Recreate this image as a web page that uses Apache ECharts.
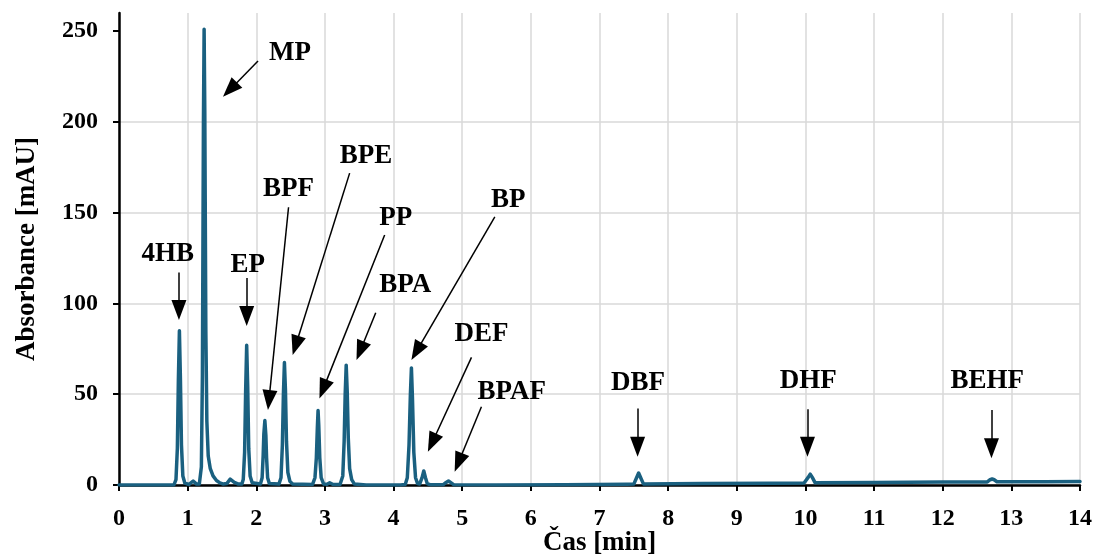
<!DOCTYPE html>
<html><head><meta charset="utf-8">
<script src="https://cdn.jsdelivr.net/npm/echarts@6/dist/echarts.min.js"></script>
<style>html,body{margin:0;padding:0;background:#fff}#c{width:1096px;height:556px}</style>
</head><body><div id="c"></div>
<script>
// Retention time [min]
const timeMin = [
  0, 0.75,
  0.80, 0.83, 0.85, 0.865, 0.88, 0.895, 0.91, 0.93, 0.96,
  1.02, 1.08, 1.13,
  1.17, 1.20, 1.215, 1.23, 1.24, 1.25, 1.265, 1.28, 1.30, 1.33, 1.37, 1.42, 1.47, 1.52,
  1.57, 1.62, 1.68, 1.74,
  1.79, 1.81, 1.83, 1.845, 1.86, 1.875, 1.89, 1.91, 1.94,
  2.06, 2.085, 2.10, 2.11, 2.125, 2.14, 2.15, 2.165, 2.19,
  2.33, 2.36, 2.38, 2.395, 2.41, 2.425, 2.44, 2.46, 2.49, 2.53,
  2.82, 2.855, 2.875, 2.89, 2.90, 2.91, 2.925, 2.945, 2.98,
  3.03, 3.07, 3.12,
  3.22, 3.26, 3.28, 3.295, 3.31, 3.325, 3.34, 3.36, 3.39, 3.43,
  3.60, 4.10,
  4.17, 4.20, 4.225, 4.245, 4.26, 4.275, 4.295, 4.32, 4.35,
  4.38, 4.415, 4.44, 4.465, 4.49, 4.53,
  4.72, 4.765, 4.80, 4.835, 4.88,
  5.50, 6.50, 7.40,
  7.50, 7.54, 7.57, 7.60, 7.64,
  8.50, 9.50, 9.98,
  10.00, 10.04, 10.07, 10.10, 10.14,
  11.00, 12.00, 12.62,
  12.65, 12.69, 12.72, 12.75, 12.79,
  13.50, 14.00
];
// Absorbance [mAU]
const absorbance = [
  0, 0,
  0, 3, 20, 58, 85, 58, 22, 5, 1,
  0.3, 2.2, 0.5,
  0.5, 10, 60, 200, 251, 205, 85, 35, 16, 9, 5, 2.5, 1.2, 0.5,
  0.8, 3.2, 1.5, 0.5,
  0.5, 3, 18, 52, 77, 54, 20, 5, 1.2,
  0.5, 4, 16, 28, 35.5, 27, 15, 4, 0.8,
  0.5, 4, 22, 50, 67.5, 52, 24, 7, 2, 0.5,
  0.3, 4, 15, 32, 41, 33, 15, 4, 0.6,
  0.4, 1.2, 0.3,
  0.3, 5, 24, 50, 66, 51, 26, 9, 3, 0.5,
  0, 0,
  0.3, 4, 22, 50, 64.5, 48, 18, 4, 0.8,
  0.5, 4, 7.7, 4, 0.8, 0.2,
  0.1, 1.4, 2.2, 1.3, 0.1,
  0, 0.1, 0.4,
  0.5, 4, 6.6, 4, 0.6,
  0.8, 1.0, 1.1,
  1.2, 4.2, 6.0, 4.2, 1.3,
  1.4, 1.6, 1.7,
  1.7, 2.9, 3.3, 2.9, 1.8,
  1.8, 1.9
];
const xTicks = [0,1,2,3,4,5,6,7,8,9,10,11,12,13,14];
const yTicks = [0,50,100,150,200,250];

// Peak annotations (data coordinates)
const peakNames  = ['4HB','MP','EP','BPF','BPE','PP','BPA','BP','DEF','BPAF','DBF','DHF','BEHF'];
const labelPos   = [[0.71,127],[2.49,238],[1.875,121],[2.47,163],[3.60,181],[4.03,147],[4.17,110],[5.67,157],[5.28,83],[5.72,51],[7.56,56],[10.04,57],[12.65,57]];
const arrowStart = [[0.873,117],[2.025,233.6],[1.86,114],[2.47,153],[3.36,171.8],[3.87,137.7],[3.74,94.9],[5.475,147.7],[5.135,70.3],[5.28,43.1],[7.555,42.2],[10.03,41.7],[12.71,41.3]];
const arrowTip   = [[0.873,90.9],[1.515,213.8],[1.86,87.6],[2.17,41.3],[2.53,71.6],[2.92,47.7],[3.46,68.8],[4.26,68.8],[4.50,18.3],[4.89,7.3],[7.555,15.6],[10.03,15.6],[12.71,14.7]];

const FONT = "'Liberation Serif','Times New Roman',serif";
const HEAD_LEN = 20, HEAD_W = 15;
const chart = echarts.init(document.getElementById('c'), null, {renderer:'canvas'});

const seriesData = timeMin.map((t,i) => [t, absorbance[i]]);
const markPoints = peakNames.map((n,i) => ({name:n, coord:labelPos[i]}));

const baseOption = {
  animation: false,
  backgroundColor: '#fff',
  grid: {left: 119, right: 16, top: 13, bottom: 71, containLabel: false, outerBoundsMode: 'none'},
  xAxis: {
    type: 'value', min: 0, max: 14, interval: 1,
    name: 'Čas [min]', nameLocation: 'middle', nameGap: 45, nameMoveOverlap: false,
    nameTextStyle: {fontFamily: FONT, fontWeight: 'bold', fontSize: 27, color: '#000'},
    axisLine: {show: true, onZero: false, lineStyle: {color: '#000', width: 2.5}},
    axisTick: {show: true, length: 6, lineStyle: {color: '#000', width: 2}, customValues: xTicks},
    axisLabel: {fontFamily: FONT, fontWeight: 'bold', fontSize: 24, color: '#000', margin: 22, customValues: xTicks},
    splitLine: {show: true, lineStyle: {color: '#d9d9d9', width: 1.5}}
  },
  yAxis: {
    type: 'value', min: 0, max: 260, interval: 50,
    name: 'Absorbance [mAU]', nameLocation: 'middle', nameGap: 78, nameRotate: 90, nameMoveOverlap: false,
    nameTextStyle: {fontFamily: FONT, fontWeight: 'bold', fontSize: 27, color: '#000'},
    axisLine: {show: true, lineStyle: {color: '#000', width: 2.5}},
    axisTick: {show: true, length: 6, lineStyle: {color: '#000', width: 2}, customValues: yTicks},
    axisLabel: {fontFamily: FONT, fontWeight: 'bold', fontSize: 24, color: '#000', margin: 21, customValues: yTicks},
    splitLine: {show: true, showMaxLine: false, lineStyle: {color: '#d9d9d9', width: 1.5}}
  },
  series: [{
    type: 'line',
    data: seriesData,
    showSymbol: false,
    symbol: 'none',
    smooth: false,
    lineStyle: {color: '#1a6080', width: 3.5, join: 'round', cap: 'round'},
    z: 3,
    markPoint: {
      silent: true,
      symbol: 'circle',
      symbolSize: 0,
      label: {show: true, position: 'inside', formatter: '{b}', fontFamily: FONT, fontWeight: 'bold', fontSize: 27, color: '#000'},
      itemStyle: {color: 'transparent'},
      emphasis: {disabled: true},
      data: markPoints
    }
  }]
};
chart.setOption(baseOption);

// Arrow lines: pull the end point back by half the head length so the triangle tip lands on the tip coordinate
const markLines = arrowStart.map((s, i) => {
  const p0 = chart.convertToPixel({seriesIndex: 0}, s);
  const p1 = chart.convertToPixel({seriesIndex: 0}, arrowTip[i]);
  const dx = p1[0] - p0[0], dy = p1[1] - p0[1];
  const len = Math.sqrt(dx*dx + dy*dy);
  const e = [p1[0] - dx/len*HEAD_LEN/2, p1[1] - dy/len*HEAD_LEN/2];
  return [{coord: s}, {coord: chart.convertFromPixel({seriesIndex: 0}, e)}];
});

chart.setOption({
  series: [{
    markLine: {
      silent: true,
      symbol: ['none', 'triangle'],
      symbolSize: [HEAD_W, HEAD_LEN],
      label: {show: false},
      lineStyle: {color: '#000', width: 1.5, type: 'solid'},
      emphasis: {disabled: true},
      data: markLines
    }
  }]
});
</script></body></html>
